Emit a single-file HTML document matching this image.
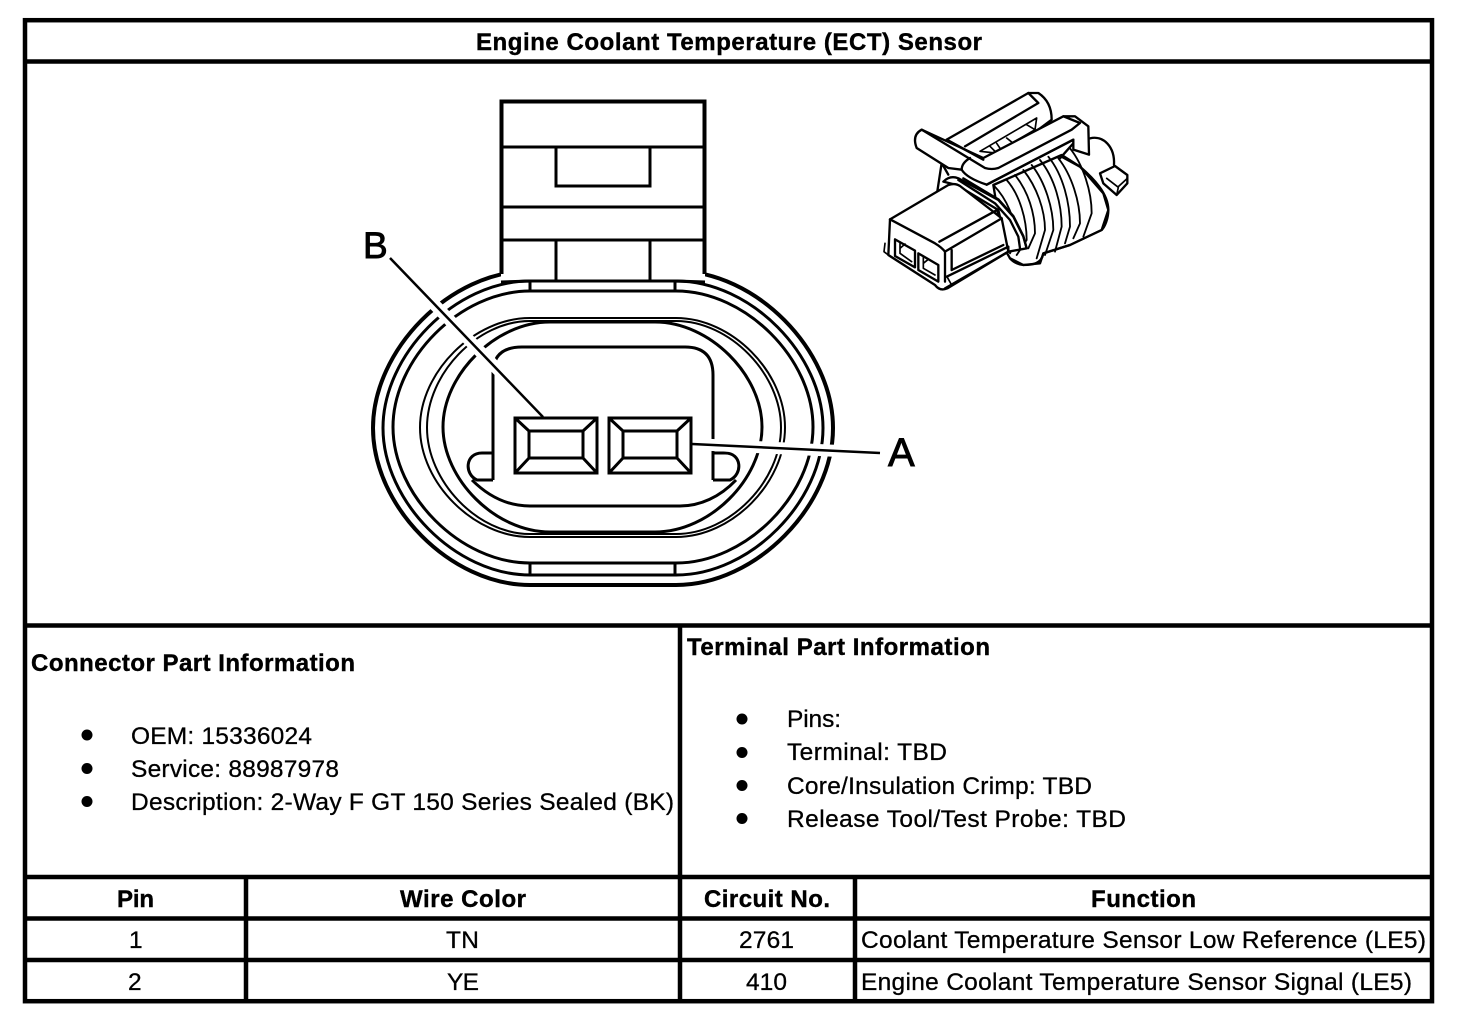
<!DOCTYPE html>
<html lang="en"><head><meta charset="utf-8"><title>Engine Coolant Temperature (ECT) Sensor</title>
<style>html,body{margin:0;padding:0;background:#fff;width:1472px;height:1020px;overflow:hidden}svg{display:block}
text{font-family:"Liberation Sans",Arial,sans-serif;font-size:24.5px;fill:#000;stroke:#000;stroke-width:.3px}
.b{font-weight:bold;font-size:24px;stroke-width:.4px}
.l{stroke-width:.9px}</style></head><body>
<svg width="1472" height="1020" viewBox="0 0 1472 1020" xmlns="http://www.w3.org/2000/svg">
<rect width="1472" height="1020" fill="#fff"/>

<!-- Connector face -->
<g fill="none" stroke="#000">
<path stroke-width="4" d="M530,271C450,271 373,350 373,428C373,506 450,585 530,585L676,585C756,585 833,506 833,428C833,350 756,271 676,271Z"/>
<path stroke-width="3" d="M530,281C455,281 383,355 383,428C383,501 455,575 530,575L676,575C751,575 823,501 823,428C823,355 751,281 676,281Z"/>
<path stroke-width="3" d="M530,291C460,291 393,359 393,427C393,495 460,563 530,563L676,563C746,563 813,495 813,427C813,359 746,291 676,291Z"/>
<path stroke-width="3" d="M530,563V575M675,563V575"/>
<path stroke-width="2" d="M530,318C474,318 420,372 420,427.5C420,483 474,537 530,537L676,537C732,537 785,483 785,427.5C785,372 732,318 676,318Z"/>
<path stroke-width="2" d="M530,321C477,321 427,374 427,427.5C427,481 477,534 530,534L676,534C730,534 781,481 781,427.5C781,374 730,321 676,321Z"/>
<path stroke-width="3" d="M550,322C495,322 443,375 443,427C443,479 495,532 550,532L655,532C710,532 762,479 762,427C762,375 710,322 655,322Z"/>
<path stroke-width="3" d="M493,480V373Q493,347 522,347H685Q713,347 713,375V480"/>
<path stroke-width="3" d="M493,453H482C465,453 464,474 477,480H493M713,453H725C742,453 743,474 730,480H713"/>
<path stroke-width="3" d="M472,480C490,498 510,506 530,506H680C700,506 720,497 736,480"/>
</g>

<!-- leader halos -->
<path d="M393,262L540,413" stroke="#fff" stroke-width="12" fill="none"/>
<path d="M702,444.5L882,453" stroke="#fff" stroke-width="12" fill="none"/>
<path d="M390,258L543,417" stroke="#000" stroke-width="2.5" fill="none"/>
<path d="M692,444L880,453" stroke="#000" stroke-width="2.5" fill="none"/>

<!-- pins -->
<g fill="#fff" stroke="#000" stroke-width="3">
<rect x="515" y="418" width="82" height="55"/>
<rect x="529" y="431" width="54" height="27"/>
<path d="M515,418L529,431M597,418L583,431M515,473L529,458M597,473L583,458" fill="none"/>
<rect x="609" y="418" width="82" height="55"/>
<rect x="623" y="431" width="54" height="27"/>
<path d="M609,418L623,431M691,418L677,431M609,473L623,458M691,473L677,458" fill="none"/>
</g>

<!-- Tab -->
<rect x="501" y="101" width="204" height="178" fill="#fff"/>
<g fill="none" stroke="#000">
<path stroke-width="4" d="M501.5,274V101.5H704.5V274"/>
<path stroke-width="3" d="M502,147H704M556,147V186H650V147M502,207H704M502,240H704M556,240V280M650,240V280"/>
<path stroke-width="3" d="M501,282L530,281H676L705,282M530,281V291M675,281V291"/>
</g>

<text class="l" x="363" y="258" style="font-size:37px">B</text>
<text class="l" x="888" y="466" style="font-size:40px">A</text>

<!-- 3D connector -->
<g transform="translate(860,80) scale(.33333)" fill="none" stroke="#000" stroke-width="7" stroke-linejoin="round" stroke-linecap="round">
<!-- back nub -->
<path d="M690,175C730,165 765,200 762,255"/>
<path fill="#fff" d="M720,280L765,258L802,285L802,310L770,345L730,310Z"/>
<path stroke-width="5" d="M775,320L802,295M740,295L775,322L770,345"/>
<!-- left round behind -->
<path d="M245,249L232,334M245,249L265,284"/>
<!-- upper clip -->
<path fill="#fff" d="M260,179L505,39L535,39Q575,65 575,119L535,149L405,240L370,239Z"/>
<path d="M315,199L535,69L505,39"/>
<path stroke-width="5" d="M360,214L530,114L525,149L405,219ZM390,199L410,219M440,174L465,194M500,134L525,149M410,190L425,212"/>
<!-- ribbed body -->
<path fill="#fff" d="M400,315L605,225L660,260L730,340L745,390L725,450L630,495L550,520L540,550L490,555L450,535L430,500Z"/>
<g stroke-width="5.5">
<path d="M400,315C440,355 468,420 468,480L450,520"/>
<path d="M440,300C480,345 500,420 500,480L470,525"/>
<path d="M465,285C505,335 525,400 525,460L505,505"/>
<path d="M490,270C530,320 555,390 555,450L530,535"/>
<path d="M515,255C555,305 580,385 580,450L555,525"/>
<path d="M540,240C585,295 605,375 605,440L585,515"/>
<path d="M565,230C610,285 630,370 630,440L615,490"/>
<path d="M595,235C635,285 660,365 660,430L640,475"/>
<path d="M630,205C670,255 695,335 695,400L670,470"/>
</g>
<path d="M605,230L660,260C700,295 745,340 745,390C745,415 735,440 725,450L630,495L550,520C545,550 520,555 490,555Q465,552 450,535"/>
<!-- front clip -->
<path fill="#fff" d="M185,149L370,234L610,109L645,109L685,139L687,224L640,209V179L380,314Q320,294 305,269L265,264L170,204Q155,165 185,149Z"/>
<path d="M185,149L375,264Q395,270 415,264L635,149L660,129L610,109"/>
<path d="M305,269Q305,249 330,234"/>
<path d="M260,179L370,239"/>
<path d="M600,235L640,190"/>
<path d="M640,179L380,314"/>
<!-- collar -->
<path fill="#fff" d="M250,305Q270,285 295,295L415,360L460,410L490,470L500,505L445,515L415,390L290,315Z"/>
<path d="M295,300L405,370L450,420L475,470L480,505"/>
<path d="M310,295L415,358L460,408L490,468L500,505"/>
<!-- box -->
<path fill="#fff" d="M90,418L265,315Q285,308 300,318L400,395L425,415L445,515L262,625Q240,635 225,615L85,525Z"/>
<path d="M90,418L225,490Q245,502 255,515V605"/>
<path d="M238,485L415,388"/>
<path d="M255,515L425,415"/>
<path d="M275,510V570"/>
<path d="M275,570L430,495M260,590L445,500V515L255,625"/>
<path stroke-width="5" d="M75,490L72,515L85,525M262,592L275,615"/>
<path d="M105,478L165,512V562L105,528Z"/>
<path d="M175,520L235,555V605L175,570Z"/>
<path stroke-width="5" d="M120,490V520L155,545M120,505L135,492M190,532V565L225,585M190,550L205,538"/>
</g>

<!-- Frame -->
<g fill="none" stroke="#000" stroke-width="4.5">
<rect x="25" y="20.2" width="1407" height="981"/>
<path d="M25,61.5H1432M25,625.5H1432M25,877H1432M25,918.5H1432M25,960H1432M680,625.5V1001M246,877V1001M855,877V1001"/>
</g>

<!-- Text -->
<text class="b" x="476" y="50" textLength="506" lengthAdjust="spacing">Engine Coolant Temperature (ECT) Sensor</text>
<text class="b" x="31" y="671" textLength="324" lengthAdjust="spacing">Connector Part Information</text>
<text class="b" x="687" y="655" textLength="303" lengthAdjust="spacing">Terminal Part Information</text>

<g fill="#000">
<circle cx="87" cy="735" r="5.5"/><circle cx="87" cy="768.5" r="5.5"/><circle cx="87" cy="801.5" r="5.5"/>
<circle cx="742" cy="719" r="5.5"/><circle cx="742" cy="752.5" r="5.5"/><circle cx="742" cy="785.5" r="5.5"/><circle cx="742" cy="818.5" r="5.5"/>
</g>
<text x="131" y="744" textLength="181" lengthAdjust="spacing">OEM: 15336024</text>
<text x="131" y="777" textLength="208" lengthAdjust="spacing">Service: 88987978</text>
<text x="131" y="810" textLength="543" lengthAdjust="spacing">Description: 2-Way F GT 150 Series Sealed (BK)</text>
<text x="787" y="727" textLength="54" lengthAdjust="spacing">Pins:</text>
<text x="787" y="760" textLength="160" lengthAdjust="spacing">Terminal: TBD</text>
<text x="787" y="794" textLength="305" lengthAdjust="spacing">Core/Insulation Crimp: TBD</text>
<text x="787" y="827" textLength="339" lengthAdjust="spacing">Release Tool/Test Probe: TBD</text>

<text class="b" x="117" y="907" textLength="37" lengthAdjust="spacing">Pin</text>
<text class="b" x="400" y="907" textLength="126" lengthAdjust="spacing">Wire Color</text>
<text class="b" x="704" y="907" textLength="126" lengthAdjust="spacing">Circuit No.</text>
<text class="b" x="1091" y="907" textLength="105" lengthAdjust="spacing">Function</text>

<text x="129" y="948">1</text>
<text x="446" y="948" textLength="33" lengthAdjust="spacing">TN</text>
<text x="739" y="948" textLength="55" lengthAdjust="spacing">2761</text>
<text x="861" y="948" textLength="565" lengthAdjust="spacing">Coolant Temperature Sensor Low Reference (LE5)</text>
<text x="128" y="990">2</text>
<text x="447" y="990" textLength="32" lengthAdjust="spacing">YE</text>
<text x="746" y="990" textLength="41" lengthAdjust="spacing">410</text>
<text x="861" y="990" textLength="551" lengthAdjust="spacing">Engine Coolant Temperature Sensor Signal (LE5)</text>
</svg>
</body></html>
